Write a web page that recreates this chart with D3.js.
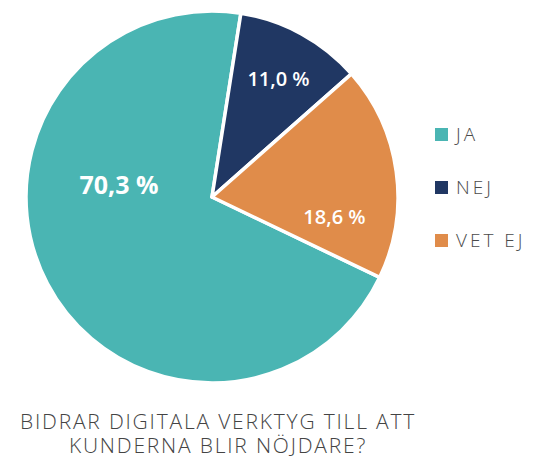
<!DOCTYPE html>
<html>
<head>
<meta charset="utf-8">
<script src="https://cdn.jsdelivr.net/npm/d3@7"></script>
<style>
  body { margin: 0; background: #fff; }
</style>
</head>
<body>
<div id="chart"></div>
<script>
"use strict";

const categories = ["JA", "NEJ", "VET EJ"];
const values = [70.3, 11.0, 18.6];
const labels = ["70,3 %", "11,0 %", "18,6 %"];
const titleLines = ["BIDRAR DIGITALA VERKTYG TILL ATT", "KUNDERNA BLIR NÖJDARE?"];

const plot = {
    width: 534,
    height: 459,
    cx: 212,
    cy: 197,
    radius: 186
}

const color = d3.scaleOrdinal()
    .domain(categories)
    .range(["#4ab5b3", "#203763", "#e08c4a"]);

let svg = d3.select("#chart")
    .append("svg")
    .attr("width", plot.width)
    .attr("height", plot.height);

let start = 115.6 * Math.PI / 180;
let pie = d3.pie()
    .sort(null)
    .value((d) => d.value)
    .startAngle(start)
    .endAngle(start + 2 * Math.PI);

let data = categories.map((c, i) => ({ cat: c, value: values[i], label: labels[i] }));
let arcs = pie(data);

let arc = d3.arc().innerRadius(0).outerRadius(plot.radius);

let g = svg.append("g")
    .attr("transform", "translate(" + plot.cx + "," + plot.cy + ")");

g.selectAll("path")
    .data(arcs)
    .enter()
    .append("path")
    .attr("d", arc)
    .attr("fill", (d) => color(d.data.cat))
    .attr("stroke", "#fff")
    .attr("stroke-width", 3.5)
    .attr("stroke-linejoin", "round");

// label placement: angle (deg, clockwise from top) and distance from centre
const labelAngle = [277.4, 29.4, 99.1];
const labelDist = [93.8, 135.5, 124];
const labelSize = [25, 20, 20];
const labelWeight = [700, 600, 600];
g.selectAll(".lbl")
    .data(arcs)
    .enter()
    .append("text")
    .attr("class", "lbl")
    .attr("transform", (d, i) => {
        let a = labelAngle[i] * Math.PI / 180;
        return "translate(" + (Math.sin(a) * labelDist[i]) + "," + (-Math.cos(a) * labelDist[i]) + ")";
    })
    .attr("text-anchor", "middle")
    .attr("dy", "0.35em")
    .attr("font-family", "'Open Sans', sans-serif")
    .attr("font-size", (d, i) => labelSize[i] + "px")
    .attr("font-weight", (d, i) => labelWeight[i])
    .attr("fill", "#fff")
    .text((d) => d.data.label);

let legend = svg.append("g")
    .attr("transform", "translate(435, 134.5)");

let item = legend.selectAll(".item")
    .data(categories)
    .enter()
    .append("g")
    .attr("transform", (d, i) => "translate(0," + i * 53 + ")");

item.append("rect")
    .attr("x", 0)
    .attr("y", -6.5)
    .attr("width", 13)
    .attr("height", 13)
    .attr("fill", (d) => color(d));

item.append("text")
    .attr("x", 21)
    .attr("dy", "0.36em")
    .attr("font-family", "'Open Sans', sans-serif")
    .attr("font-weight", 300)
    .attr("font-size", "19px")
    .attr("letter-spacing", "3px")
    .attr("fill", "#4a4a4a")
    .text((d) => d);

svg.selectAll(".title")
    .data(titleLines)
    .enter()
    .append("text")
    .attr("class", "title")
    .attr("x", 218)
    .attr("y", (d, i) => 429 + i * 24)
    .attr("text-anchor", "middle")
    .attr("font-family", "'Open Sans', sans-serif")
    .attr("font-weight", 300)
    .attr("font-size", "21px")
    .attr("letter-spacing", "1.8px")
    .attr("fill", "#444")
    .text((d) => d);
</script>
</body>
</html>
